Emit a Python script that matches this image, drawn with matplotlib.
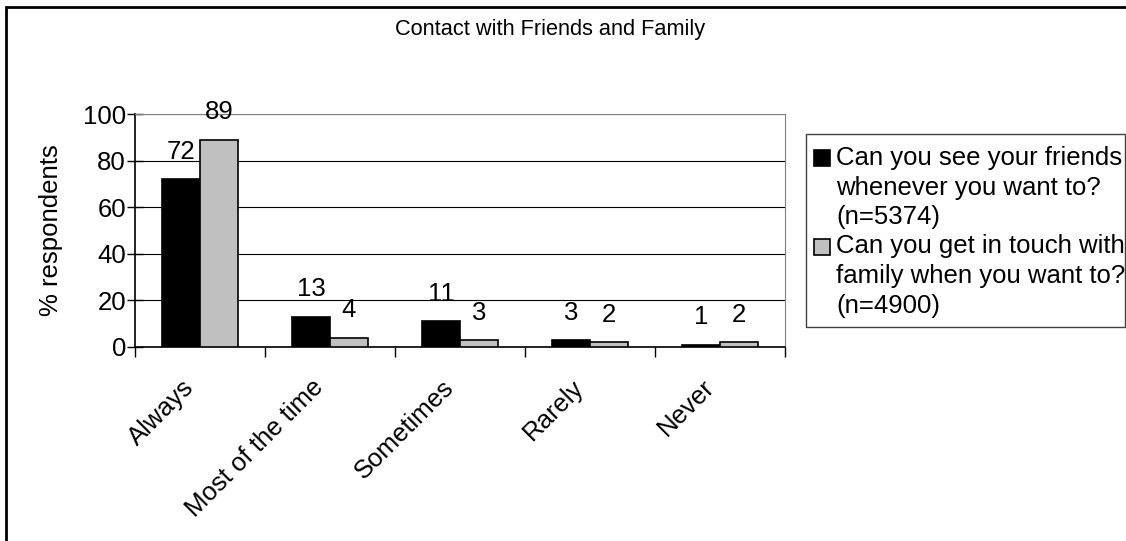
import numpy as np
import matplotlib.pyplot as plt
from matplotlib.patches import Rectangle
from matplotlib.transforms import ScaledTranslation

plt.rcParams["font.family"] = ["Liberation Sans", "DejaVu Sans"]

categories = ["Always", "Most of the time", "Sometimes", "Rarely", "Never"]
friends = [72, 13, 11, 3, 1]
family = [89, 4, 3, 2, 2]
series_names = [
    "Can you see your friends\nwhenever you want to?\n(n=5374)",
    "Can you get in touch with\nfamily when you want to?\n(n=4900)",
]
series_colors = ["black", "#c0c0c0"]

W, H = 1126, 541
FS = 18.5


def px(x0, y0):
    # pixel position (from top-left) -> figure fraction
    return x0 / W, 1 - y0 / H


fig = plt.figure(figsize=(W / 100, H / 100), dpi=100)
ax = fig.add_axes([135 / W, 1 - 347 / H, (785 - 135) / W, (347 - 114) / H])

x = np.arange(len(categories))
bw = 0.29
b1 = ax.bar(x - bw / 2, friends, bw, color=series_colors[0], edgecolor="black",
            linewidth=1.2, zorder=3)
b2 = ax.bar(x + bw / 2, family, bw, color=series_colors[1], edgecolor="black",
            linewidth=1.2, zorder=3)

for bars, vals in ((b1, friends), (b2, family)):
    for rect, v in zip(bars, vals):
        ax.annotate(str(v), (rect.get_x() + rect.get_width() / 2, v),
                    xytext=(0, 11), textcoords="offset points",
                    ha="center", va="bottom", fontsize=FS)

ax.set_xlim(-0.5, len(categories) - 0.5)
ax.set_ylim(0, 100)
ax.set_yticks(range(0, 101, 20))
ax.set_xticks(np.arange(-0.5, len(categories), 1.0))
ax.set_xticklabels([])
ax.set_xticks(x, minor=True)
ax.set_xticklabels(categories, minor=True, rotation=45, ha="right",
                   va="baseline", rotation_mode="anchor", fontsize=FS)
ax.tick_params(axis="x", which="minor", length=0, pad=30)
ax.tick_params(axis="x", which="major", length=7, width=1, direction="out")
ax.tick_params(axis="y", length=11, width=1, direction="inout", labelsize=FS, pad=1)
shift = ScaledTranslation(-5 / 100, 0, fig.dpi_scale_trans)
for lab in ax.get_xticklabels(minor=True):
    lab.set_transform(lab.get_transform() + shift)

ax.grid(axis="y", color="black", linewidth=0.8, zorder=0)
for side in ("top", "right"):
    ax.spines[side].set_color("#808080")
for side in ("left", "bottom"):
    ax.spines[side].set_color("black")
    ax.spines[side].set_linewidth(1.2)
ax.set_ylabel("% respondents", fontsize=FS, labelpad=14)

fig.text(*px(550, 30), "Contact with Friends and Family",
         ha="center", va="center", fontsize=15.7)

# legend box, drawn by hand so the swatches sit on the first line of each entry
fig.add_artist(Rectangle(px(806, 327), (1125 - 806) / W, (327 - 134) / H,
                         transform=fig.transFigure, facecolor="white",
                         edgecolor="#404040", linewidth=1.0))
line_h = 29.5
y_line = 158
for name, color in zip(series_names, series_colors):
    fig.add_artist(Rectangle(px(814, y_line + 8), 16 / W, 16 / H,
                             transform=fig.transFigure, facecolor=color,
                             edgecolor="black", linewidth=1.2))
    for line in name.split("\n"):
        fig.text(*px(836, y_line), line, ha="left", va="center", fontsize=FS)
        y_line += line_h

fig.add_artist(Rectangle((6 / W, -0.1), 1.2, 1.1 - 7 / H, transform=fig.transFigure,
                         fill=False, edgecolor="black", linewidth=2))

fig.savefig("out.png", dpi=100)
